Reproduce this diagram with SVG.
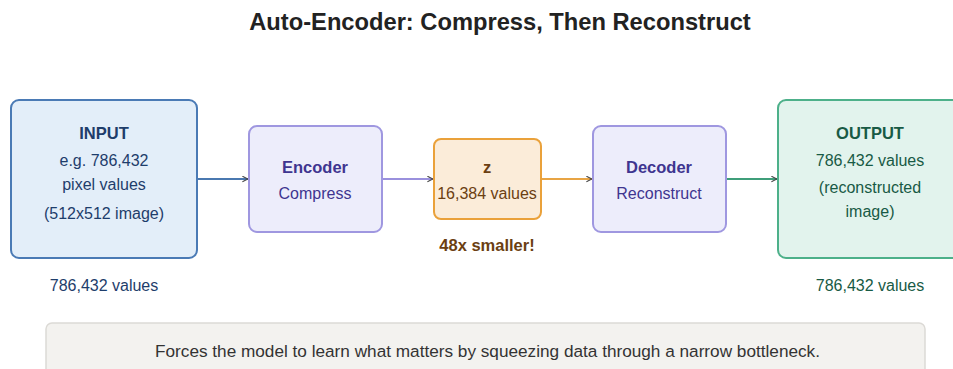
<svg xmlns="http://www.w3.org/2000/svg" width="953" height="369" viewBox="0 0 953 369">
<defs>
<marker id="ah" viewBox="0 0 10 10" refX="9" refY="5" markerWidth="7" markerHeight="7" orient="auto" markerUnits="userSpaceOnUse">
<path d="M1,1 L9,5 L1,9" fill="none" stroke="#444" stroke-width="1.5"/>
</marker>
<style>
text{font-family:"Liberation Sans",Arial,sans-serif;text-anchor:middle}
.t{font-size:23.7px;font-weight:bold;fill:#222}
.b{font-weight:bold;font-size:16.5px}
.n{font-size:16px}
.in{fill:#1e3d6b}
.en{fill:#3f3590}
.zz{fill:#6b3f12}
.ou{fill:#185a45}
.c{stroke-width:2;fill:none}
</style>
</defs>
<rect width="953" height="369" fill="#fff"/>
<text class="t" x="500" y="30">Auto-Encoder: Compress, Then Reconstruct</text>
<g id="connectors">
<line class="c" x1="197" y1="179" x2="248" y2="179" stroke="#4a78b0" marker-end="url(#ah)"/>
<line class="c" x1="382" y1="179" x2="433" y2="179" stroke="#9a90dd" marker-end="url(#ah)"/>
<line class="c" x1="541" y1="179" x2="592" y2="179" stroke="#e8a444" marker-end="url(#ah)"/>
<line class="c" x1="726" y1="179" x2="777" y2="179" stroke="#3f9e7a" marker-end="url(#ah)"/>
</g>
<g id="input">
<rect x="11" y="100" width="186" height="158" rx="8" fill="#e3eef9" stroke="#4a7ab5" stroke-width="2"/>
<text class="b in" x="104" y="139">INPUT</text>
<text class="n in" x="104" y="166">e.g. 786,432</text>
<text class="n in" x="104" y="190">pixel values</text>
<text class="n in" x="104" y="219">(512x512 image)</text>
<text class="n in" x="104" y="291">786,432 values</text>
</g>
<g id="encoder">
<rect x="249" y="126" width="133" height="106" rx="8" fill="#ededfb" stroke="#9f97e0" stroke-width="2"/>
<text class="b en" x="315" y="173">Encoder</text>
<text class="n en" x="315" y="199">Compress</text>
</g>
<g id="z">
<rect x="434" y="139" width="107" height="80" rx="7" fill="#fbecd9" stroke="#eaa13a" stroke-width="2"/>
<text class="b zz" x="487" y="173">z</text>
<text class="n zz" x="487" y="199">16,384 values</text>
<text class="b zz" x="487" y="251">48x smaller!</text>
</g>
<g id="decoder">
<rect x="593" y="126" width="133" height="106" rx="8" fill="#ededfb" stroke="#9f97e0" stroke-width="2"/>
<text class="b en" x="659" y="173">Decoder</text>
<text class="n en" x="659" y="199">Reconstruct</text>
</g>
<g id="output">
<rect x="778" y="100" width="186" height="158" rx="8" fill="#e2f3ed" stroke="#4db08a" stroke-width="2"/>
<text class="b ou" x="870" y="139">OUTPUT</text>
<text class="n ou" x="870" y="166">786,432 values</text>
<text class="n ou" x="870" y="193">(reconstructed</text>
<text class="n ou" x="870" y="217">image)</text>
<text class="n ou" x="870" y="291">786,432 values</text>
</g>
<g id="note">
<rect x="46" y="323" width="879" height="60" rx="6" fill="#f3f2ef" stroke="#dcdad6" stroke-width="1.5"/>
<text x="487.5" y="357" fill="#333" style="font-size:17.2px">Forces the model to learn what matters by squeezing data through a narrow bottleneck.</text>
</g>
</svg>
